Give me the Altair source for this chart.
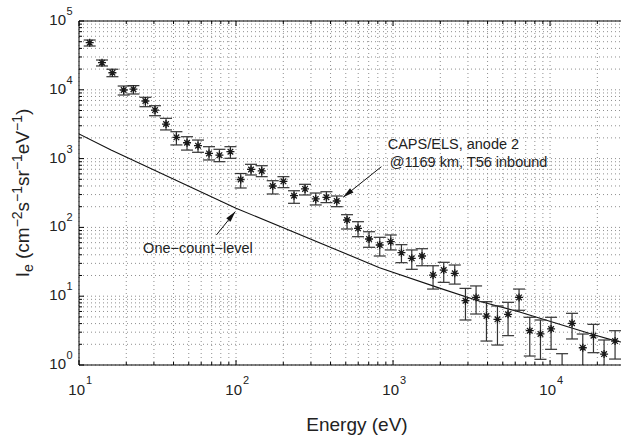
import altair as alt
import pandas as pd

# ---------------- data ----------------
energy = [11.70, 14.01, 16.32, 19.26, 22.21, 26.48, 30.49, 35.83, 41.72, 48.75,
          57.28, 67.30, 78.41, 92.11, 107.1, 124.6, 145.8, 171.3, 200.4, 234.1,
          275.1, 321.8, 376.5, 437.9, 509.3, 598.4, 703.3, 823.0, 966.9, 1131,
          1316, 1530, 1798, 2103, 2472, 2892, 3379, 3935, 4624, 5402,
          6347, 7426, 8687, 10150, 11930, 13805, 16155, 18900, 22080, 25940]
flux = [48400, 24800, 17700, 9930, 10200, 6870, 5080, 3180, 2040, 1700,
        1540, 1190, 1120, 1260, 497, 695, 661, 400, 468, 289,
        362, 259, 274, 242, 128, 97, 67.8, 55.5, 62, 42.9,
        35.5, 38.4, 20.3, 24.0, 21.5, 8.6, 9.6, 5.15, 4.61, 5.46,
        9.6, 3.15, 2.83, 3.34, 0.8, 4.04, 1.78, 2.67, 1.44, 2.23]
flux_lo = [43300, 22200, 15500, 8400, 8690, 5680, 4200, 2610, 1580, 1330,
           1235, 955, 902, 1010, 374, 578, 546, 306, 378, 224,
           296, 212, 229, 200, 94.8, 73.3, 51.4, 38.4, 47.0, 30.7,
           24.6, 27.7, 12.7, 15.9, 15.0, 4.51, 5.51, 2.23, 1.95, 2.67,
           6.24, 1.35, 1.21, 1.69, 0.14, 2.39, 0.74, 1.51, 0.57, 1.22]
flux_hi = [52900, 27100, 19900, 11350, 11500, 7780, 5870, 3850, 2460, 2080,
           1860, 1490, 1365, 1490, 607, 826, 788, 477, 546, 341,
           423, 316, 330, 286, 153, 121, 86.5, 71.8, 77.6, 56.1,
           47.0, 49.0, 27.7, 31.1, 28.4, 13.0, 14.1, 8.32, 7.21, 8.15,
           12.7, 4.94, 4.51, 4.94, 1.46, 5.64, 2.82, 3.90, 2.31, 3.15]

count_energy = [10, 16, 100, 820, 2000, 3600, 6400, 19000, 25000, 30000]
count_level = [2280, 1330, 190, 26, 13, 8.4, 5.9, 2.75, 2.3, 2.1]

x_major = [10, 100, 1000, 10000]
x_exp = ["1", "2", "3", "4"]
y_major = [1, 10, 100, 1000, 10000, 100000]
y_exp = ["0", "1", "2", "3", "4", "5"]

# annotations (data coordinates)
note_text = ["CAPS/ELS, anode 2", "@1169 km, T56 inbound", "One\u2212count\u2212level"]
note_e = [925, 953, 25.6]
note_i = [1365, 763, 42.9]
arrow_e0 = [843, 75]
arrow_i0 = [763, 77.6]
arrow_e1 = [481, 99]
arrow_i1 = [274, 170]
arrow_angle = [231.5, 39]

# ---------------- layout ----------------
W, H = 542, 344
X_DOM = [10, 28300]
Y_DOM = [1, 100000]
FONT = "Liberation Sans"
INK = "#222222"

xs = alt.Scale(type="log", domain=X_DOM, nice=False)
ys = alt.Scale(type="log", domain=Y_DOM, nice=False)

df = pd.DataFrame({"E": energy, "I": flux, "lo": flux_lo, "hi": flux_hi})
dline = pd.DataFrame({"E": count_energy, "I": count_level})

x_grid = [k * 10 ** n for n in range(1, 5) for k in range(1, 10) if k * 10 ** n <= X_DOM[1]]
y_grid = [k * 10 ** n for n in range(0, 5) for k in range(1, 10)] + [100000]
x_minor = [v for v in x_grid if v not in x_major]
y_minor = [v for v in y_grid if v not in y_major]

gx = pd.DataFrame({"v": x_grid})
gy = pd.DataFrame({"v": y_grid})

grid_style = dict(color="#8f8f8f", strokeDash=[1, 3], strokeWidth=1)
vgrid = alt.Chart(gx).mark_rule(**grid_style).encode(
    x=alt.X("v:Q", scale=xs, axis=None), y=alt.value(0), y2=alt.value(H))
hgrid = alt.Chart(gy).mark_rule(**grid_style).encode(
    y=alt.Y("v:Q", scale=ys, axis=None), x=alt.value(0), x2=alt.value(W))

cline = alt.Chart(dline).mark_line(color="#111111", strokeWidth=1.1, clip=True).encode(
    x=alt.X("E:Q", scale=xs, axis=None), y=alt.Y("I:Q", scale=ys, axis=None))

ebar = alt.Chart(df).mark_rule(color="#333333", strokeWidth=1.2, clip=True).encode(
    x=alt.X("E:Q", scale=xs, axis=None), y=alt.Y("lo:Q", scale=ys, axis=None), y2="hi:Q")
cap_kw = dict(shape="M-1,0L1,0", size=144, filled=False, strokeWidth=1.2,
              color="#333333", opacity=1, clip=True)
cap_lo = alt.Chart(df).mark_point(**cap_kw).encode(
    x=alt.X("E:Q", scale=xs, axis=None), y=alt.Y("lo:Q", scale=ys, axis=None))
cap_hi = alt.Chart(df).mark_point(**cap_kw).encode(
    x=alt.X("E:Q", scale=xs, axis=None), y=alt.Y("hi:Q", scale=ys, axis=None))
stars = alt.Chart(df).mark_point(
    shape="M-1,0L1,0M0,-1L0,1M-0.7,-0.7L0.7,0.7M-0.7,0.7L0.7,-0.7",
    size=64, filled=False, strokeWidth=1.3, color="#1a1a1a", opacity=1, clip=True
).encode(x=alt.X("E:Q", scale=xs, axis=None), y=alt.Y("I:Q", scale=ys, axis=None))

notes = pd.DataFrame({"t": note_text, "E": note_e, "I": note_i})
note_layer = alt.Chart(notes).mark_text(
    align="left", baseline="alphabetic", font=FONT, fontSize=14.5, color=INK
).encode(x=alt.X("E:Q", scale=xs, axis=None), y=alt.Y("I:Q", scale=ys, axis=None), text="t:N")

arr = pd.DataFrame({"e0": arrow_e0, "i0": arrow_i0, "e1": arrow_e1, "i1": arrow_i1, "a": arrow_angle})
arrow_lines = alt.Chart(arr).mark_rule(color="#111111", strokeWidth=1).encode(
    x=alt.X("e0:Q", scale=xs, axis=None), y=alt.Y("i0:Q", scale=ys, axis=None),
    x2="e1:Q", y2="i1:Q")
arrow_heads = alt.Chart(arr).mark_point(
    shape="M0,0L-0.25,1L0.25,1Z", size=484, filled=True, color="#111111", opacity=1
).encode(x=alt.X("e1:Q", scale=xs, axis=None), y=alt.Y("i1:Q", scale=ys, axis=None),
         angle=alt.Angle("a:Q", scale=None))

# ticks (inward)
def xticks(vals, length):
    d = pd.DataFrame({"v": vals})
    b = alt.Chart(d).mark_rule(color="black", strokeWidth=1).encode(
        x=alt.X("v:Q", scale=xs, axis=None), y=alt.value(H), y2=alt.value(H - length))
    t = alt.Chart(d).mark_rule(color="black", strokeWidth=1).encode(
        x=alt.X("v:Q", scale=xs, axis=None), y=alt.value(0), y2=alt.value(length))
    return [b, t]

def yticks(vals, length):
    d = pd.DataFrame({"v": vals})
    return [alt.Chart(d).mark_rule(color="black", strokeWidth=1).encode(
        y=alt.Y("v:Q", scale=ys, axis=None), x=alt.value(0), x2=alt.value(length))]

tick_layers = xticks(x_major, 5) + xticks(x_minor, 3) + yticks(y_major, 5) + yticks(y_minor, 3)

one = pd.DataFrame({"a": [0]})
box = [
    alt.Chart(one).mark_rule(color="black", strokeWidth=1).encode(
        x=alt.value(0), x2=alt.value(W), y=alt.value(H)),
    alt.Chart(one).mark_rule(color="black", strokeWidth=1).encode(
        x=alt.value(0), x2=alt.value(W), y=alt.value(0)),
    alt.Chart(one).mark_rule(color="black", strokeWidth=1).encode(
        x=alt.value(0), y=alt.value(0), y2=alt.value(H)),
]

# tick labels 10^n
xl = pd.DataFrame({"v": x_major, "e": x_exp, "b": ["10"] * len(x_major)})
yl = pd.DataFrame({"v": y_major, "e": y_exp, "b": ["10"] * len(y_major)})
xlab = alt.Chart(xl).mark_text(align="right", baseline="middle", dx=6, font=FONT,
                               fontSize=15, color=INK).encode(
    x=alt.X("v:Q", scale=xs, axis=None), y=alt.value(H + 25), text="b:N")
xexp = alt.Chart(xl).mark_text(align="left", baseline="middle", dx=7, font=FONT,
                               fontSize=11, color=INK).encode(
    x=alt.X("v:Q", scale=xs, axis=None), y=alt.value(H + 16), text="e:N")
ylab = alt.Chart(yl).mark_text(align="right", baseline="middle", dy=-1, font=FONT,
                               fontSize=15, color=INK).encode(
    y=alt.Y("v:Q", scale=ys, axis=None), x=alt.value(-13), text="b:N")
yexp = alt.Chart(yl).mark_text(align="left", baseline="middle", dy=-9, font=FONT,
                               fontSize=11, color=INK).encode(
    y=alt.Y("v:Q", scale=ys, axis=None), x=alt.value(-12.5), text="e:N")

# axis titles
xtitle = alt.Chart(one).mark_text(align="center", baseline="alphabetic", font=FONT,
                                  fontSize=19, color=INK).encode(
    x=alt.value(278), y=alt.value(410), text=alt.value("Energy (eV)"))

# y title built from pieces (rotated), with super/subscripts
CW = {"I": 0.278, "e": 0.556, "(": 0.333, "c": 0.5, "m": 0.833, "s": 0.5, "r": 0.333,
      "V": 0.667, ")": 0.333, "\u2212": 0.584, "1": 0.556, "2": 0.556, " ": 0.278}
MAIN, SCRIPT = 19, 14
pieces = [("I", MAIN, 0), ("e", SCRIPT, 4), (" ", MAIN, None), ("(cm", MAIN, 0),
          ("\u22122", SCRIPT, -7), ("s", MAIN, 0), ("\u22121", SCRIPT, -7),
          ("sr", MAIN, 0), ("\u22121", SCRIPT, -7), ("eV", MAIN, 0),
          ("\u22121", SCRIPT, -7), (")", MAIN, 0)]
total = sum(sum(CW[c] for c in t) * fs for t, fs, _ in pieces)
start = (H / 2) + total / 2
base_x = -50
ytitle_layers = []
off = 0.0
for t, fs, shift in pieces:
    w = sum(CW[c] for c in t) * fs
    if shift is not None:
        ytitle_layers.append(
            alt.Chart(one).mark_text(angle=270, align="left", baseline="alphabetic",
                                     font=FONT, fontSize=fs, color=INK).encode(
                x=alt.value(base_x + shift), y=alt.value(start - off), text=alt.value(t)))
    off += w

chart = alt.layer(
    vgrid, hgrid, cline, ebar, cap_lo, cap_hi, stars, arrow_lines, arrow_heads,
    note_layer, *tick_layers, *box, xlab, xexp, ylab, yexp, xtitle, *ytitle_layers
).properties(
    width=W, height=H,
    autosize=alt.AutoSizeParams(type="none"),
    padding={"left": 79, "top": 21, "right": 1, "bottom": 70},
    background="white",
).configure_view(stroke=None)

chart.save("out.html", embed_options={"renderer": "svg", "actions": False})
